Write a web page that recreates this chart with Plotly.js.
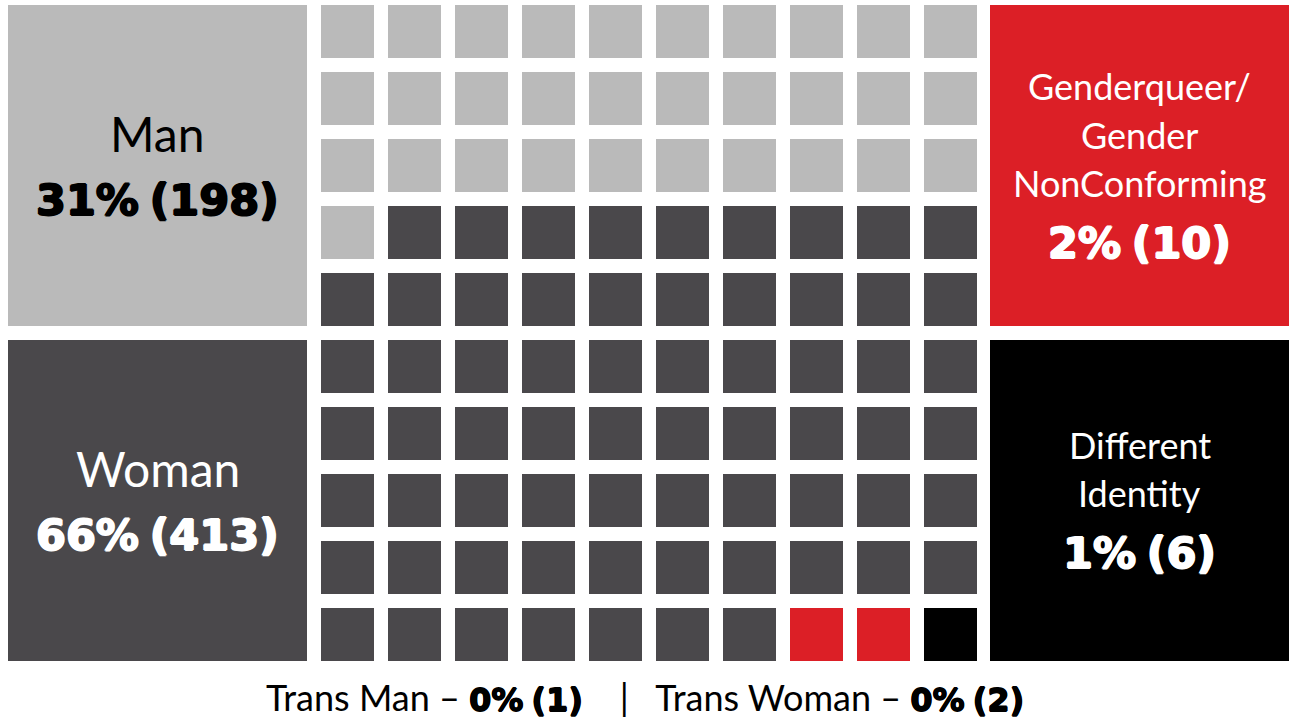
<!DOCTYPE html>
<html>
<head>
<meta charset="utf-8">
<script src="https://cdn.plot.ly/plotly-3.0.1.min.js"></script>
<style>html,body{margin:0;padding:0;background:#fff;}#chart{width:1295px;height:723px;}</style>
</head>
<body>
<div id="chart"></div>
<script>
// ---- data ----
const categories = ['Man', 'Woman', 'Genderqueer/<br>Gender<br>NonConforming', 'Different<br>Identity'];
const counts = [198, 413, 10, 6];
const percents = [31, 66, 2, 1];
const squares = [31, 66, 2, 1];           // waffle squares per category (of 100)
const colors = ['#bababa', '#4a484b', '#dc1f26', '#000000'];
const textColors = ['#000000', '#ffffff', '#ffffff', '#ffffff'];
const transLabels = ['Trans Man', 'Trans Woman'];
const transCounts = [1, 2];
const transPercents = [0, 0];

// ---- layout geometry (pixels) ----
const W = 1295, H = 723;
const gridCols = 10, gridRows = 10;
const cell = 53, gap = 14, pitch = cell + gap;
const gridX0 = 321, gridY0 = 5;
const boxW = 299;
const boxH = 5 * cell + 4 * gap;

// waffle matrix
const z = [];
let idx = 0, used = 0;
for (let r = 0; r < gridRows; r++) {
  const row = [];
  for (let c = 0; c < gridCols; c++) {
    while (idx < squares.length && used >= squares[idx]) { idx++; used = 0; }
    row.push(idx);
    used++;
  }
  z.push(row);
}
const n = colors.length - 1;
const colorscale = [];
colors.forEach((col, i) => {
  colorscale.push([Math.max(0, (i - 0.5) / n), col]);
  colorscale.push([Math.min(1, (i + 0.5) / n), col]);
});

const heat = {
  type: 'heatmap',
  z: z,
  x0: gridX0 + cell / 2, dx: pitch,
  y0: gridY0 + cell / 2, dy: pitch,
  zmin: 0, zmax: n,
  colorscale: colorscale,
  showscale: false,
  xgap: gap, ygap: gap,
  hoverinfo: 'skip'
};

// big boxes: left column (Man, Woman), right column (Genderqueer, Different)
const gridRight = gridX0 + gridCols * pitch - gap;
const boxX = [gridX0 - gap - boxW, gridX0 - gap - boxW, gridRight + 13, gridRight + 13];
const boxY = [gridY0, gridY0 + 5 * pitch, gridY0, gridY0 + 5 * pitch];

function thick(c, d) {
  return d + 'px 0 0 ' + c + ', -' + d + 'px 0 0 ' + c + ', 0 ' + d + 'px 0 ' + c + ', 0 -' + d + 'px 0 ' + c;
}

const shapes = [];
const annotations = [];
const regFont = 'Lato, "Noto Sans", sans-serif';
const boldFont = '"DejaVu Sans", Roboto, sans-serif';
const sp4 = '\u2005';
categories.forEach((cat, i) => {
  const x0 = boxX[i], y0 = boxY[i];
  shapes.push({type: 'rect', xref: 'x', yref: 'y', x0: x0, x1: x0 + boxW, y0: y0, y1: y0 + boxH,
    fillcolor: colors[i], line: {width: 0}, layer: 'below'});
  const lines = cat.split('<br>');
  const cx = x0 + boxW / 2;
  const big = lines.length === 1;
  const fs = big ? 48 : 36;
  const lh = big ? 0 : 48.5;
  const numY = y0 + (big ? 195 : (lines.length === 3 ? 238 : 213));
  const firstY = big ? numY - 67 : numY - 60 - lh * (lines.length - 1);
  lines.forEach((ln, k) => {
    annotations.push({xref: 'x', yref: 'y', x: cx, y: firstY + k * lh, text: ln, showarrow: false,
      xanchor: 'center', yanchor: 'middle',
      font: {family: regFont, size: fs, color: textColors[i], weight: 400}});
  });
  annotations.push({xref: 'x', yref: 'y', x: cx, y: numY, text: percents[i] + '%' + sp4 + '(' + counts[i] + ')',
    showarrow: false, xanchor: 'center', yanchor: 'middle',
    font: {family: boldFont, size: 43, color: textColors[i], weight: 700, shadow: thick(textColors[i], 1)}});
});

// bottom note
const sp = '&nbsp;&nbsp;&nbsp;&nbsp;';
const note = transLabels.map((l, i) => l + ' – <span style="font-family:\'DejaVu Sans\';font-weight:bold;font-size:32px;text-shadow:' +
  thick('#000', 0.6) + '">' + transPercents[i] + '%' + sp4 + '(' + transCounts[i] + ')</span>').join(sp + '|' + '&nbsp;&nbsp;&nbsp;');
annotations.push({xref: 'x', yref: 'y', x: W / 2 - 3, y: 697, text: note, showarrow: false,
  xanchor: 'center', yanchor: 'middle', font: {family: regFont, size: 36, color: '#000', weight: 400}});

const layout = {
  width: W, height: H,
  margin: {l: 0, r: 0, t: 0, b: 0},
  paper_bgcolor: '#ffffff', plot_bgcolor: '#ffffff',
  xaxis: {range: [0, W], visible: false, fixedrange: true},
  yaxis: {range: [H, 0], visible: false, fixedrange: true},
  shapes: shapes,
  annotations: annotations,
  showlegend: false
};

Plotly.newPlot('chart', [heat], layout, {displayModeBar: false, staticPlot: true});
</script>
</body>
</html>
